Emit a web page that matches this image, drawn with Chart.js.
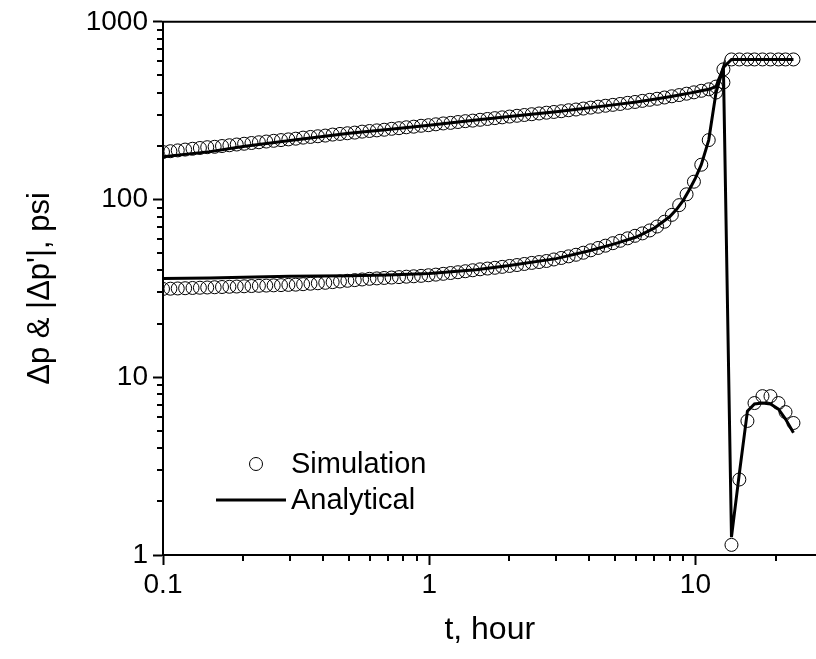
<!DOCTYPE html>
<html>
<head>
<meta charset="utf-8">
<script src="https://cdn.jsdelivr.net/npm/chart.js@4.4.1/dist/chart.umd.min.js"></script>
<style>
  html, body { margin: 0; padding: 0; background: #fff; overflow: hidden; }
  #wrap { width: 816px; height: 659px; overflow: hidden; }
</style>
</head>
<body>
<div id="wrap"><canvas id="chart" width="824" height="659"></canvas></div>
<script>
// time steps of the simulation (hours), flowing period then shut-in
const timeFlow = [
  0.1, 0.1066, 0.1136, 0.1211, 0.1291, 0.1376, 0.1466, 0.1563, 0.1666, 0.1776,
  0.1892, 0.2017, 0.215, 0.2292, 0.2443, 0.2604, 0.2775, 0.2958, 0.3153, 0.336,
  0.3581, 0.3817, 0.4069, 0.4337, 0.4622, 0.4927, 0.5251, 0.5597, 0.5966, 0.6359,
  0.6776, 0.7224, 0.77, 0.8207, 0.8746, 0.9322, 0.9936, 1.059, 1.129, 1.203,
  1.282, 1.367, 1.457, 1.553, 1.655, 1.764, 1.88, 2.004, 2.136, 2.277,
  2.427, 2.587, 2.757, 2.939, 3.133, 3.339, 3.559, 3.793, 4.043, 4.31,
  4.592, 4.895, 5.218, 5.562, 5.928, 6.318, 6.734, 7.178, 7.651, 8.155,
  8.69, 9.263, 9.872, 10.52, 11.22, 11.95, 12.74
];
const timeShut = [13.66, 14.62, 15.68, 16.67, 17.86, 19.14, 20.51, 21.8, 23.35];

// simulation: pressure change (psi)
const simDpFlow = [
  185, 187, 189, 191, 193, 195, 197, 198, 200, 202,
  204, 206, 208, 210, 212, 214, 216, 218, 220, 223,
  225, 227, 229, 232, 234, 236, 238, 241, 243, 245,
  247, 250, 252, 255, 257, 260, 262, 265, 268, 270,
  273, 276, 278, 281, 284, 287, 290, 293, 296, 299,
  302, 305, 308, 311, 314, 318, 321, 325, 329, 333,
  337, 341, 345, 350, 354, 359, 364, 369, 375, 381,
  387, 394, 401, 409, 417, 432, 456
];
const simDpShut = [614, 614, 614, 614, 614, 614, 614, 614, 614];

// simulation: |derivative| (psi)
const simDerFlow = [
  31.4, 31.5, 31.6, 31.7, 31.8, 31.9, 32.0, 32.1, 32.2, 32.3,
  32.4, 32.5, 32.6, 32.7, 32.8, 32.9, 33.0, 33.1, 33.2, 33.4,
  33.6, 33.8, 34.0, 34.3, 34.6, 34.9, 35.2, 35.5, 35.8, 36.0,
  36.2, 36.4, 36.6, 36.8, 37.0, 37.2, 37.5, 37.8, 38.2, 38.6,
  39.0, 39.5, 40.0, 40.5, 40.9, 41.3, 41.8, 42.3, 42.8, 43.4,
  44.0, 44.5, 45.1, 46.0, 46.9, 47.9, 48.9, 50.2, 51.8, 53.4,
  55.0, 56.8, 58.6, 60.5, 62.5, 64.5, 67, 70.5, 75, 82,
  93, 107, 126, 157, 216, 400, 540
];
const simDerShut = [1.14, 2.66, 5.68, 7.16, 7.83, 7.83, 7.16, 6.37, 5.53];

// analytical solution
const timeAna = [
  0.1, 0.15, 0.2, 0.3, 0.5, 0.7, 1, 1.5, 2, 3, 4, 5, 6, 7, 8, 8.5, 9, 9.5, 10,
  10.52, 11.22, 11.95, 12.74, 13.66, 14.62, 15.68, 16.67, 17.86, 19.14, 20.51, 21.8, 23.35
];
const anaDp = [
  174, 186, 199, 215, 236, 248, 262, 280, 293, 312, 328, 342, 354, 367, 379, 385, 391, 397, 403,
  409, 417, 432, 553, 614, 614, 614, 614, 614, 614, 614, 614, 614
];
const anaDer = [
  35.9, 36.2, 36.5, 37.0, 37.3, 37.6, 38.3, 40.3, 42.5, 46.5, 51.5, 56.5, 61.5, 69, 80, 88, 99, 114, 132,
  157, 216, 400, 553, 1.26, 2.87, 6.45, 7.07, 7.16, 7.07, 6.62, 5.82, 4.87
];

const xTicks = [0.1, 1, 10];
const yTicks = [1, 10, 100, 1000];

function pairs(xs, ys) {
  return xs.map((x, i) => ({ x: x, y: ys[i] }));
}

function logTicks(lo, hi) {
  const out = [];
  for (let d = lo; d < hi * 10; d *= 10) {
    for (let m = 1; m <= 9; m++) {
      const v = +(m * d).toPrecision(3);
      if (v <= hi) out.push({ value: v });
    }
  }
  return out;
}

const isDecade = (v) => Math.abs(Math.log10(v) - Math.round(Math.log10(v))) < 1e-6;

const font = "'Liberation Sans', Arial, Helvetica, sans-serif";

// minor ticks, top frame line and the legend
const extras = {
  id: "extras",
  afterDraw(chart) {
    const ctx = chart.ctx;
    const area = chart.chartArea;
    ctx.save();
    ctx.strokeStyle = "#000";
    ctx.lineWidth = 2;
    ctx.beginPath();
    ctx.moveTo(area.left - 1, area.top);
    ctx.lineTo(area.right, area.top);
    ctx.stroke();

    const xs = chart.scales.x;
    const ys = chart.scales.y;
    ctx.beginPath();
    xs.ticks.forEach((t) => {
      if (isDecade(t.value)) return;
      const px = Math.round(xs.getPixelForValue(t.value));
      ctx.moveTo(px, area.bottom);
      ctx.lineTo(px, area.bottom + 6);
    });
    ys.ticks.forEach((t) => {
      if (isDecade(t.value)) return;
      const py = Math.round(ys.getPixelForValue(t.value));
      ctx.moveTo(area.left, py);
      ctx.lineTo(area.left - 6, py);
    });
    ctx.stroke();

    // legend
    ctx.lineWidth = 1;
    ctx.beginPath();
    ctx.arc(256, 464, 6.5, 0, Math.PI * 2);
    ctx.stroke();
    ctx.lineWidth = 3;
    ctx.beginPath();
    ctx.moveTo(216, 500);
    ctx.lineTo(286, 500);
    ctx.stroke();
    ctx.fillStyle = "#000";
    ctx.font = "29px " + font;
    ctx.textBaseline = "middle";
    ctx.textAlign = "left";
    ctx.fillText("Simulation", 291, 465);
    ctx.fillText("Analytical", 291, 501);
    ctx.restore();
  },
};

const circleStyle = {
  showLine: false,
  pointStyle: "circle",
  pointRadius: 6.5,
  pointHoverRadius: 6.5,
  pointBorderWidth: 1,
  pointBorderColor: "#000",
  pointBackgroundColor: "rgba(0,0,0,0)",
  order: 2,
};

const lineStyle = {
  showLine: true,
  borderColor: "#000",
  borderWidth: 3,
  pointRadius: 0,
  tension: 0,
  order: 1,
};

new Chart(document.getElementById("chart"), {
  type: "scatter",
  data: {
    datasets: [
      { label: "Simulation dp", data: pairs(timeFlow.concat(timeShut), simDpFlow.concat(simDpShut)), ...circleStyle },
      { label: "Simulation dp'", data: pairs(timeFlow.concat(timeShut), simDerFlow.concat(simDerShut)), ...circleStyle },
      { label: "Analytical dp", data: pairs(timeAna, anaDp), ...lineStyle },
      { label: "Analytical dp'", data: pairs(timeAna, anaDer), ...lineStyle },
    ],
  },
  options: {
    responsive: false,
    animation: false,
    events: [],
    layout: { padding: { top: 19, right: 0, left: 0, bottom: 0 } },
    plugins: { legend: { display: false }, tooltip: { enabled: false } },
    scales: {
      x: {
        type: "logarithmic",
        min: 0.1,
        max: 28.5,
        afterBuildTicks: (scale) => { scale.ticks = logTicks(0.1, 20); },
        afterFit: (scale) => { scale.height = 104; },
        border: { display: true, color: "#000", width: 2 },
        grid: {
          drawOnChartArea: false,
          drawTicks: true,
          tickLength: 10,
          tickWidth: 2,
          tickColor: (c) => (c.tick && isDecade(c.tick.value) ? "#000" : "rgba(0,0,0,0)"),
        },
        ticks: {
          autoSkip: false,
          maxRotation: 0,
          padding: 3,
          color: "#000",
          font: { family: font, size: 28 },
          callback: (v) => (xTicks.includes(v) ? String(v) : ""),
        },
        title: {
          display: true,
          text: "t, hour",
          color: "#000",
          font: { family: font, size: 32 },
          padding: { top: 0, bottom: 10 },
        },
      },
      y: {
        type: "logarithmic",
        min: 1,
        max: 1000,
        afterBuildTicks: (scale) => { scale.ticks = logTicks(1, 1000); },
        afterFit: (scale) => { scale.width = 163; },
        border: { display: true, color: "#000", width: 2 },
        grid: {
          drawOnChartArea: false,
          drawTicks: true,
          tickLength: 10,
          tickWidth: 2,
          tickColor: (c) => (c.tick && isDecade(c.tick.value) ? "#000" : "rgba(0,0,0,0)"),
        },
        ticks: {
          autoSkip: false,
          padding: 5,
          color: "#000",
          font: { family: font, size: 28 },
          callback: (v) => (yTicks.includes(v) ? String(v) : ""),
        },
        title: {
          display: true,
          text: "\u0394p & |\u0394p'|, psi",
          color: "#000",
          font: { family: font, size: 31 },
          padding: { top: 22, bottom: 0 },
        },
      },
    },
  },
  plugins: [extras],
});
</script>
</body>
</html>
